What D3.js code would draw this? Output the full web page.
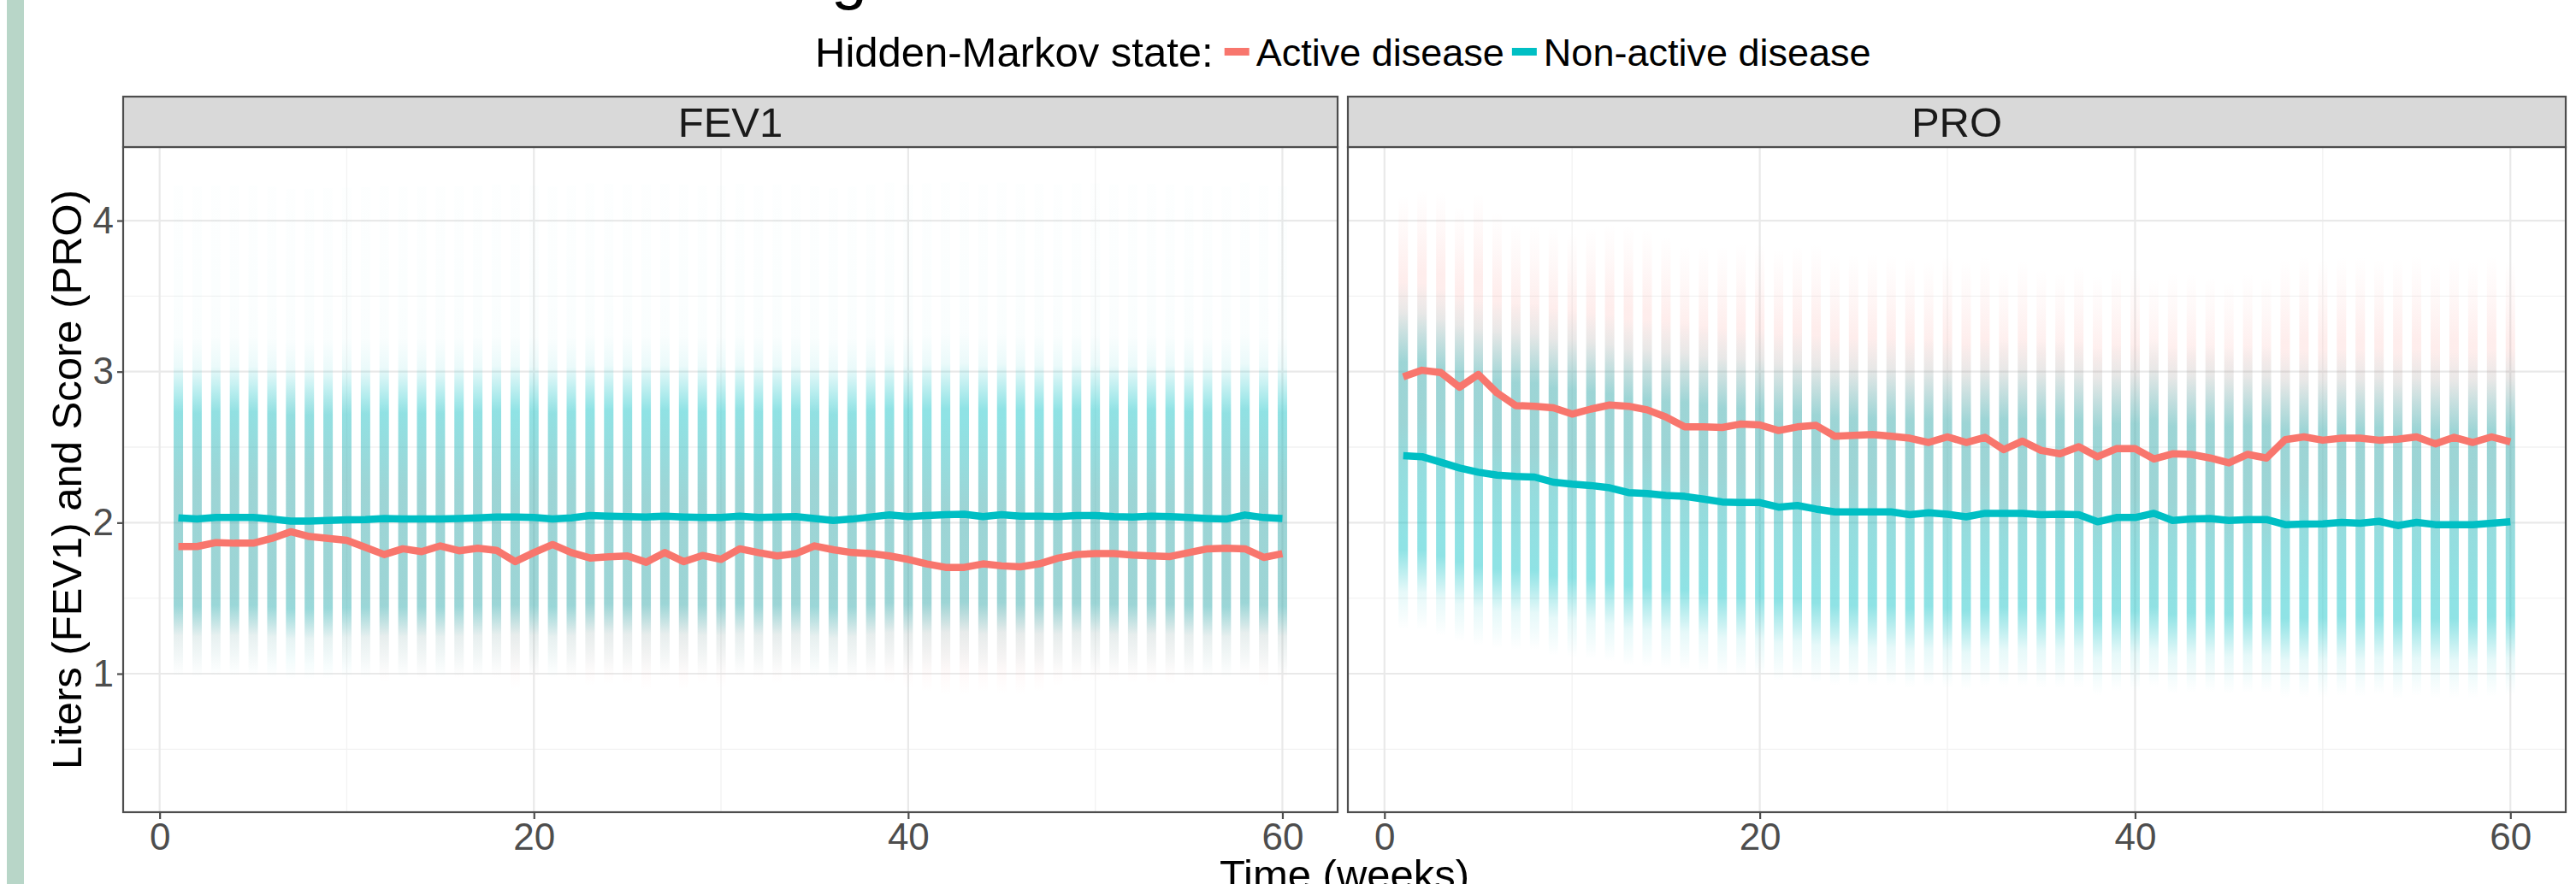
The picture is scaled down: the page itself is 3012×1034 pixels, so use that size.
<!DOCTYPE html>
<html>
<head>
<meta charset="utf-8">
<script src="https://cdn.jsdelivr.net/npm/d3@7"></script>
<style>
body { margin: 0; background: #fff; }
text { font-family: "Liberation Sans", Arial, sans-serif; }
</style>
</head>
<body>
<svg width="3012" height="1034"></svg>
<script>
weeks = [1,2,3,4,5,6,7,8,9,10,11,12,13,14,15,16,17,18,19,20,21,22,23,24,25,26,27,28,29,30,
         31,32,33,34,35,36,37,38,39,40,41,42,43,44,45,46,47,48,49,50,51,52,53,54,55,56,57,58,59,60]
panels = ['FEV1', 'PRO']
states = ['Active disease', 'Non-active disease']
xTicks = [0, 20, 40, 60]
yTicks = [1, 2, 3, 4]

// weekly means per hidden state
fevActive = [1.842,1.842,1.868,1.864,1.864,1.896,1.940,1.908,1.896,1.883,
             1.836,1.789,1.827,1.808,1.846,1.814,1.831,1.817,1.742,1.802,
             1.855,1.802,1.766,1.774,1.780,1.738,1.802,1.742,1.783,1.757,
             1.827,1.802,1.780,1.795,1.846,1.821,1.802,1.795,1.780,1.757,
             1.727,1.704,1.704,1.727,1.714,1.708,1.727,1.765,1.789,1.795,
             1.795,1.785,1.780,1.776,1.802,1.827,1.831,1.827,1.770,1.795]
fevNonActive = [2.032,2.024,2.034,2.034,2.034,2.024,2.011,2.011,2.015,2.019,
                2.021,2.028,2.024,2.024,2.024,2.028,2.032,2.038,2.038,2.034,
                2.024,2.032,2.047,2.043,2.040,2.038,2.043,2.038,2.034,2.034,
                2.043,2.034,2.038,2.040,2.028,2.015,2.024,2.038,2.051,2.040,
                2.047,2.053,2.056,2.040,2.053,2.043,2.043,2.040,2.047,2.047,
                2.040,2.038,2.043,2.040,2.034,2.028,2.024,2.051,2.034,2.028]
proActive = [2.966,3.009,2.994,2.897,2.981,2.859,2.775,2.771,2.760,2.719,
             2.752,2.779,2.771,2.747,2.700,2.634,2.634,2.630,2.653,2.647,
             2.610,2.634,2.644,2.572,2.578,2.583,2.572,2.559,2.531,2.568,
             2.531,2.565,2.484,2.540,2.478,2.456,2.503,2.437,2.490,2.490,
             2.422,2.456,2.452,2.428,2.396,2.452,2.428,2.550,2.568,2.546,
             2.559,2.559,2.546,2.553,2.568,2.522,2.565,2.531,2.568,2.535]
proNonActive = [2.443,2.437,2.400,2.362,2.334,2.315,2.306,2.302,2.268,2.255,
                2.246,2.231,2.199,2.193,2.180,2.174,2.156,2.137,2.133,2.133,
                2.103,2.114,2.090,2.071,2.071,2.071,2.071,2.053,2.066,2.056,
                2.039,2.062,2.062,2.062,2.053,2.056,2.053,2.006,2.034,2.034,
                2.062,2.015,2.024,2.028,2.015,2.021,2.021,1.987,1.991,1.992,
                2.002,1.996,2.009,1.981,2.002,1.987,1.987,1.987,1.996,2.006]

// spread of the individual observations around the weekly mean (offset from mean, density)
fevActiveSpread = [-0.85, -0.55, -0.3, 0.4, 0.7, 1.0]
fevActiveDensity = [0, 0.08, 0.13, 0.13, 0.06, 0]
fevNonActiveSpread = [-1.05, -0.78, -0.58, 0.7, 1.0, 1.2, 2.2]
fevNonActiveDensity = [0, 0.1, 0.44, 0.44, 0.08, 0.02, 0.008]
proActiveSpread = [-1.1, -0.6, -0.3, 0.65, 0.95, 1.2]
proActiveDensity = [0, 0.06, 0.13, 0.13, 0.05, 0]
proNonActiveSpread = [-1.15, -0.9, -0.62, 0.62, 0.95, 1.15]
proNonActiveDensity = [0, 0.1, 0.44, 0.44, 0.1, 0]

let series = {
    'FEV1': {'Active disease': {mean: fevActive, spread: fevActiveSpread, density: fevActiveDensity},
             'Non-active disease': {mean: fevNonActive, spread: fevNonActiveSpread, density: fevNonActiveDensity}},
    'PRO': {'Active disease': {mean: proActive, spread: proActiveSpread, density: proActiveDensity},
            'Non-active disease': {mean: proNonActive, spread: proNonActiveSpread, density: proNonActiveDensity}}
}

let colour = d3.scaleOrdinal().domain(states).range(['#F8766D', '#00BFC4'])

let svg = d3.select('svg')
let defs = svg.append('defs')

// green bar at the slide edge
svg.append('rect').attr('x', 8).attr('y', 0).attr('width', 20).attr('height', 1034).attr('fill', '#b8d6c8')

// title cut by the top edge, only the descender shows
svg.append('text').attr('x', 972).attr('y', -3).attr('font-size', 75).attr('fill', '#000').text('g')

let panelTop = 172, panelBottom = 950, stripTop = 113
let panelX = {'FEV1': [144, 1564], 'PRO': [1576, 3000]}

let y = d3.scaleLinear().domain([0.083, 4.487]).range([panelBottom, panelTop])

panels.forEach((p, pi) => {
    let x = d3.scaleLinear().domain([-1.95, 62.95]).range(panelX[p])
    let g = svg.append('g')
    let x0 = panelX[p][0], x1 = panelX[p][1]

    defs.append('clipPath').attr('id', 'clip' + pi)
        .append('rect').attr('x', x0).attr('y', panelTop).attr('width', x1 - x0).attr('height', panelBottom - panelTop)

    // grid
    let minorX = [10, 30, 50], minorY = [0.5, 1.5, 2.5, 3.5]
    g.selectAll('.gx-minor').data(minorX).enter().append('line')
        .attr('x1', d => x(d)).attr('x2', d => x(d)).attr('y1', panelTop).attr('y2', panelBottom)
        .attr('stroke', '#f2f2f2').attr('stroke-width', 1.3)
    g.selectAll('.gy-minor').data(minorY).enter().append('line')
        .attr('y1', d => y(d)).attr('y2', d => y(d)).attr('x1', x0).attr('x2', x1)
        .attr('stroke', '#f2f2f2').attr('stroke-width', 1.3)
    g.selectAll('.gx').data(xTicks).enter().append('line')
        .attr('x1', d => x(d)).attr('x2', d => x(d)).attr('y1', panelTop).attr('y2', panelBottom)
        .attr('stroke', '#e9e9e9').attr('stroke-width', 2.2)
    g.selectAll('.gy').data(yTicks).enter().append('line')
        .attr('y1', d => y(d)).attr('y2', d => y(d)).attr('x1', x0).attr('x2', x1)
        .attr('stroke', '#e9e9e9').attr('stroke-width', 2.2)

    let plot = g.append('g').attr('clip-path', `url(#clip${pi})`)

    // point clouds, drawn as faded columns per week
    ;['Non-active disease', 'Active disease'].forEach((s, si) => {
        let d = series[p][s]
        let lo = d.spread[0], hi = d.spread[d.spread.length - 1]
        let gid = `grad${pi}${si}`
        let grad = defs.append('linearGradient').attr('id', gid).attr('x1', 0).attr('x2', 0).attr('y1', 0).attr('y2', 1)
        d.spread.slice().reverse().forEach((o, i) => {
            let k = d.spread.length - 1 - i
            grad.append('stop').attr('offset', (hi - o) / (hi - lo))
                .attr('stop-color', colour(s)).attr('stop-opacity', d.density[k])
        })
        plot.selectAll('.col' + si).data(weeks).enter().append('rect')
            .attr('x', w => x(w) - 5.5).attr('width', 11)
            .attr('y', (w, i) => y(d.mean[i] + hi))
            .attr('height', (w, i) => y(d.mean[i] + lo) - y(d.mean[i] + hi))
            .attr('fill', `url(#${gid})`)
    })

    // weekly mean lines
    states.forEach(s => {
        let d = series[p][s]
        plot.append('path')
            .datum(weeks)
            .attr('d', d3.line().x(w => x(w)).y((w, i) => y(d.mean[i])))
            .attr('fill', 'none').attr('stroke', colour(s)).attr('stroke-width', 8.5)
            .attr('stroke-linejoin', 'round')
    })

    // panel border
    g.append('rect').attr('x', x0).attr('y', panelTop).attr('width', x1 - x0).attr('height', panelBottom - panelTop)
        .attr('fill', 'none').attr('stroke', '#4d4d4d').attr('stroke-width', 2.2)

    // strip
    g.append('rect').attr('x', x0).attr('y', stripTop).attr('width', x1 - x0).attr('height', panelTop - stripTop)
        .attr('fill', '#d9d9d9').attr('stroke', '#4d4d4d').attr('stroke-width', 2.2)
    g.append('text').attr('x', (x0 + x1) / 2).attr('y', 160).attr('text-anchor', 'middle')
        .attr('font-size', 49).attr('fill', '#1a1a1a').text(p)

    // x axis
    let xa = g.append('g').attr('transform', `translate(0,${panelBottom})`)
        .call(d3.axisBottom(x).tickValues(xTicks).tickSize(8).tickPadding(6).tickFormat(d3.format('d')))
    xa.select('.domain').remove()
    xa.selectAll('line').attr('stroke', '#4d4d4d').attr('stroke-width', 2.2)
    xa.selectAll('text').attr('font-size', 44).attr('fill', '#4d4d4d').attr('font-family', null)
        .attr('dy', null).attr('y', 44)

    // y axis on the first panel only
    if (pi == 0) {
        let ya = g.append('g').attr('transform', `translate(${x0},0)`)
            .call(d3.axisLeft(y).tickValues(yTicks).tickSize(7).tickPadding(4).tickFormat(d3.format('d')))
        ya.select('.domain').remove()
        ya.selectAll('line').attr('stroke', '#4d4d4d').attr('stroke-width', 2.2)
        ya.selectAll('text').attr('font-size', 44).attr('fill', '#4d4d4d').attr('font-family', null)
    }
})

// axis titles
svg.append('text').attr('x', 1572).attr('y', 1040).attr('text-anchor', 'middle')
    .attr('font-size', 49).attr('fill', '#000').text('Time (weeks)')
svg.append('text').attr('transform', 'translate(95,561) rotate(-90)').attr('text-anchor', 'middle')
    .attr('font-size', 49).attr('fill', '#000').text('Liters (FEV1) and Score (PRO)')

// legend
let legend = svg.append('g')
let lt = legend.append('text').attr('x', 953).attr('y', 78).attr('font-size', 49).attr('fill', '#000')
    .text('Hidden-Markov state:')
let lx = 953 + lt.node().getComputedTextLength() + 13
states.forEach(s => {
    legend.append('line').attr('x1', lx).attr('x2', lx + 29).attr('y1', 60.5).attr('y2', 60.5)
        .attr('stroke', colour(s)).attr('stroke-width', 9)
    let t = legend.append('text').attr('x', lx + 37).attr('y', 77).attr('font-size', 45).attr('fill', '#000').text(s)
    lx = lx + 37 + t.node().getComputedTextLength() + 9
})
</script>
</body>
</html>
